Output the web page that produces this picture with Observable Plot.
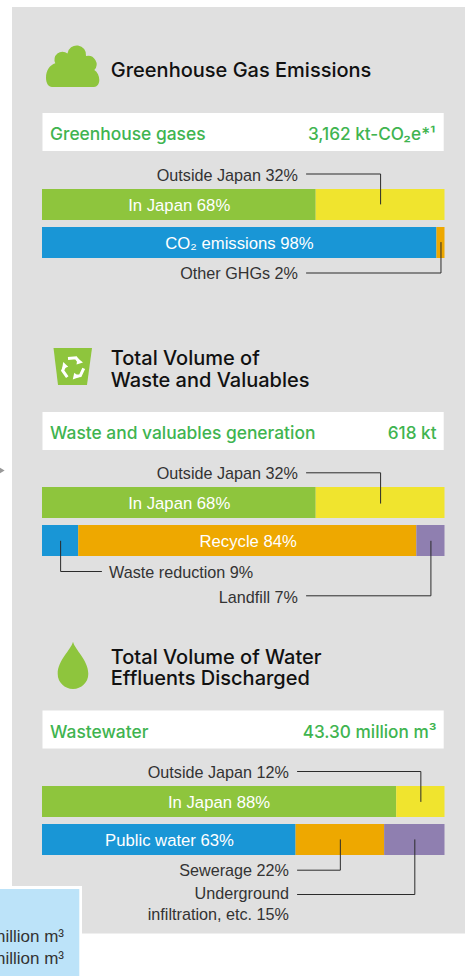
<!DOCTYPE html>
<html>
<head>
<meta charset="utf-8">
<style>html,body{margin:0;padding:0;background:#fff;overflow:hidden}svg{display:block}</style>
<script src="https://cdn.jsdelivr.net/npm/d3@7"></script>
<script src="https://cdn.jsdelivr.net/npm/@observablehq/plot@0.6"></script>
</head>
<body>
<script>
// ---- data ----
const ghgRegionNames = ["In Japan", "Outside Japan"];
const ghgRegionValues = [68, 32];
const ghgTypeNames = ["CO₂ emissions", "Other GHGs"];
const ghgTypeValues = [98, 2];
const wasteRegionNames = ["In Japan", "Outside Japan"];
const wasteRegionValues = [68, 32];
const wasteFlowNames = ["Waste reduction", "Recycle", "Landfill"];
const wasteFlowValues = [9, 84, 7];
const waterRegionNames = ["In Japan", "Outside Japan"];
const waterRegionValues = [88, 12];
const waterDestNames = ["Public water", "Sewerage", "infiltration, etc."];
const waterDestValues = [63, 22, 15];
const totalLabels = ["Greenhouse gases", "Waste and valuables generation", "Wastewater"];
const totalValues = ["3,162 kt-CO₂e*¹", "618 kt", "43.30 million m³"];
const titleLines = ["Greenhouse Gas Emissions", "Total Volume of", "Waste and Valuables", "Total Volume of Water", "Effluents Discharged"];

// ---- layout ----
const W = 465, H = 976;
const left = 42, right = 444.5;
const px = p => (p - left) / (right - left) * 100; // page pixel -> share scale
const GREEN = "#8ec53d", YELLOW = "#f0e42e", BLUE = "#1996d6", ORANGE = "#eea800", PURPLE = "#8f7fb0";
const TEXTGREEN = "#40b450", INK = "#333333";
const SANS = "'Liberation Sans', Arial, sans-serif";
const HEAD = "Inter, 'Liberation Sans', sans-serif";

function segments(names, values, colors, top, bottom) {
  const ends = Array.from(d3.cumsum(values));
  return names.map((name, i) => ({name, value: values[i], x1: i ? ends[i - 1] : 0, x2: ends[i], fill: colors[i], top, bottom}));
}
const rows = [
  segments(ghgRegionNames, ghgRegionValues, [GREEN, YELLOW], 189, 220),
  segments(ghgTypeNames, ghgTypeValues, [BLUE, ORANGE], 227, 258),
  segments(wasteRegionNames, wasteRegionValues, [GREEN, YELLOW], 487, 518),
  segments(wasteFlowNames, wasteFlowValues, [BLUE, ORANGE, PURPLE], 525, 556),
  segments(waterRegionNames, waterRegionValues, [GREEN, YELLOW], 786, 817),
  segments(waterDestNames, waterDestValues, [BLUE, ORANGE, PURPLE], 824, 855)
];
const segs = rows.flat();
const mid = (r, i) => (rows[r][i].x1 + rows[r][i].x2) / 2;
const pct = (r, i) => `${rows[r][i].name} ${rows[r][i].value}%`;

// connector polylines
const connectors = [
  [[px(306), 173.5], [mid(0,1), 173.5], [mid(0,1), 203.5]],
  [[px(306), 272.5], [mid(1,1), 272.5], [mid(1,1), 242]],
  [[px(306), 472.3], [mid(2,1), 472.3], [mid(2,1), 502.7]],
  [[mid(3,0), 540.7], [mid(3,0), 571], [px(101), 571]],
  [[mid(3,2), 540.7], [mid(3,2), 595.3], [px(306), 595.3]],
  [[px(297), 771], [mid(4,1), 771], [mid(4,1), 801]],
  [[mid(5,1), 839.3], [mid(5,1), 869.7], [px(297), 869.7]],
  [[mid(5,2), 839.3], [mid(5,2), 894], [px(297), 894]]
];

// white headline rows
const bands = [[113, 151], [412, 450], [710.5, 748.5]];

const barLabels = [
  {t: pct(0,0), x: 178.7, y: 210.5}, {t: pct(1,0), x: 239, y: 248.5},
  {t: pct(2,0), x: 178.7, y: 508.5}, {t: pct(3,1), x: 247.7, y: 546.5},
  {t: pct(4,0), x: 218.5, y: 807.5}, {t: pct(5,0), x: 169, y: 845.5}
];
const rightLabels = [
  {t: pct(0,1), x: 297.5, y: 180}, {t: pct(1,1), x: 297.5, y: 278.3},
  {t: pct(2,1), x: 297.5, y: 478.5}, {t: pct(3,2), x: 297.5, y: 602},
  {t: pct(4,1), x: 288.5, y: 777.5}, {t: pct(5,1), x: 288.5, y: 875.5},
  {t: "Underground", x: 288.5, y: 898.5}, {t: pct(5,2), x: 288.5, y: 919.5}
];
const leftLabels = [{t: pct(3,0), x: 108.5, y: 577}];
const titles = titleLines.map((t, i) => ({t, x: 110.3, y: [76, 364, 386, 663, 684][i]}));
const totalsL = totalLabels.map((t, i) => ({t, x: 49.5, y: [139.5, 438.5, 737.5][i]}));
const totalsR = totalValues.map((t, i) => ({t, x: [435, 436, 436][i], y: [139.5, 438.5, 737.5][i]}));
const cutLabels = [{t: "million m³", x: 63.5, y: 941.5}, {t: "million m³", x: 63.5, y: 963}];

const text = (data, o) => Plot.text(data, {text: "t", x: d => px(d.x), y: "y", lineAnchor: "bottom", fontFamily: SANS, ...o});

// icons: drawn as plain svg paths on top of the plot's coordinate system
function icons() {
  const g = d3.create("svg:g");
  g.append("path").attr("fill", GREEN).attr("d",
    "M52 87C48.5 87 46 83 46 78C46 70 50 65 55.3 63.3A8 8 0 0 1 67.5 53.5A9.3 9.3 0 0 1 86 56A8.5 8.5 0 0 1 94.3 70C97.5 72 99.3 76 99.3 80C99.3 84 97 87 94 87Z");
  g.append("path").attr("fill", GREEN).attr("d", "M53.5 348H92L87 385H58Z");
  g.append("path").attr("fill", GREEN).attr("d",
    "M73 641.7C75 650 88.3 660 88.3 673.7A15.3 15.3 0 0 1 57.7 673.7C57.7 660 71 650 73 641.7Z");
  const rec = g.append("g").attr("transform", "translate(73 368)");
  for (const a of [0, 120, 240]) {
    const s = rec.append("g").attr("transform", `rotate(${a})`);
    s.append("path").attr("fill", "none").attr("stroke", "#fff").attr("stroke-width", 3)
      .attr("d", "M-5 -9.5L3 -10.2L6 -6");
    s.append("path").attr("fill", "#fff").attr("d", "M3.5 -3.5L10 -5.5L4.5 -10Z");
  }
  return g.node();
}

const chart = Plot.plot({
  width: W, height: H, margin: 0,
  x: {domain: [0, 100], range: [left, right], axis: null},
  y: {domain: [0, H], range: [0, H], axis: null},
  style: {background: "transparent"},
  marks: [
    Plot.rect([0], {x1: px(12), x2: px(W), y1: 7, y2: 933.5, fill: "#e0e0e0"}),
    Plot.rect(bands, {x1: px(42.5), x2: px(443.7), y1: d => d[0], y2: d => d[1], fill: "#fff"}),
    Plot.rect(segs, {x1: "x1", x2: "x2", y1: "top", y2: "bottom", fill: "fill"}),
    ...connectors.map(c => Plot.line(c, {x: d => d[0], y: d => d[1], stroke: "#2b2b2b", strokeWidth: 1, strokeLinejoin: "miter"})),
    Plot.rect([0], {x1: px(0), x2: px(82), y1: 886, y2: H, fill: "#fff"}),
    Plot.rect([0], {x1: px(0), x2: px(79.3), y1: 889, y2: H, fill: "#bce3f9"}),
    Plot.dot([0], {x: px(1), y: 470, r: 2, symbol: "triangle", rotate: 90, fill: "#999"}),
    icons,
    text(titles, {textAnchor: "start", fontFamily: HEAD, fontSize: 20, fontWeight: 500, fill: "#111"}),
    text(totalsL, {textAnchor: "start", fontFamily: HEAD, fontSize: 17.4, fontWeight: 500, fill: TEXTGREEN}),
    text(totalsR, {textAnchor: "end", fontFamily: HEAD, fontSize: 17.2, fontWeight: 500, fill: TEXTGREEN}),
    text(barLabels, {fontSize: 16.7, fill: "#fff"}),
    text(rightLabels, {textAnchor: "end", fontSize: 16.2, fill: INK}),
    text(leftLabels, {textAnchor: "start", fontSize: 16.2, fill: INK}),
    text(cutLabels, {textAnchor: "end", fontSize: 17, fill: INK})
  ]
});
document.body.appendChild(chart);
</script>
</body>
</html>
